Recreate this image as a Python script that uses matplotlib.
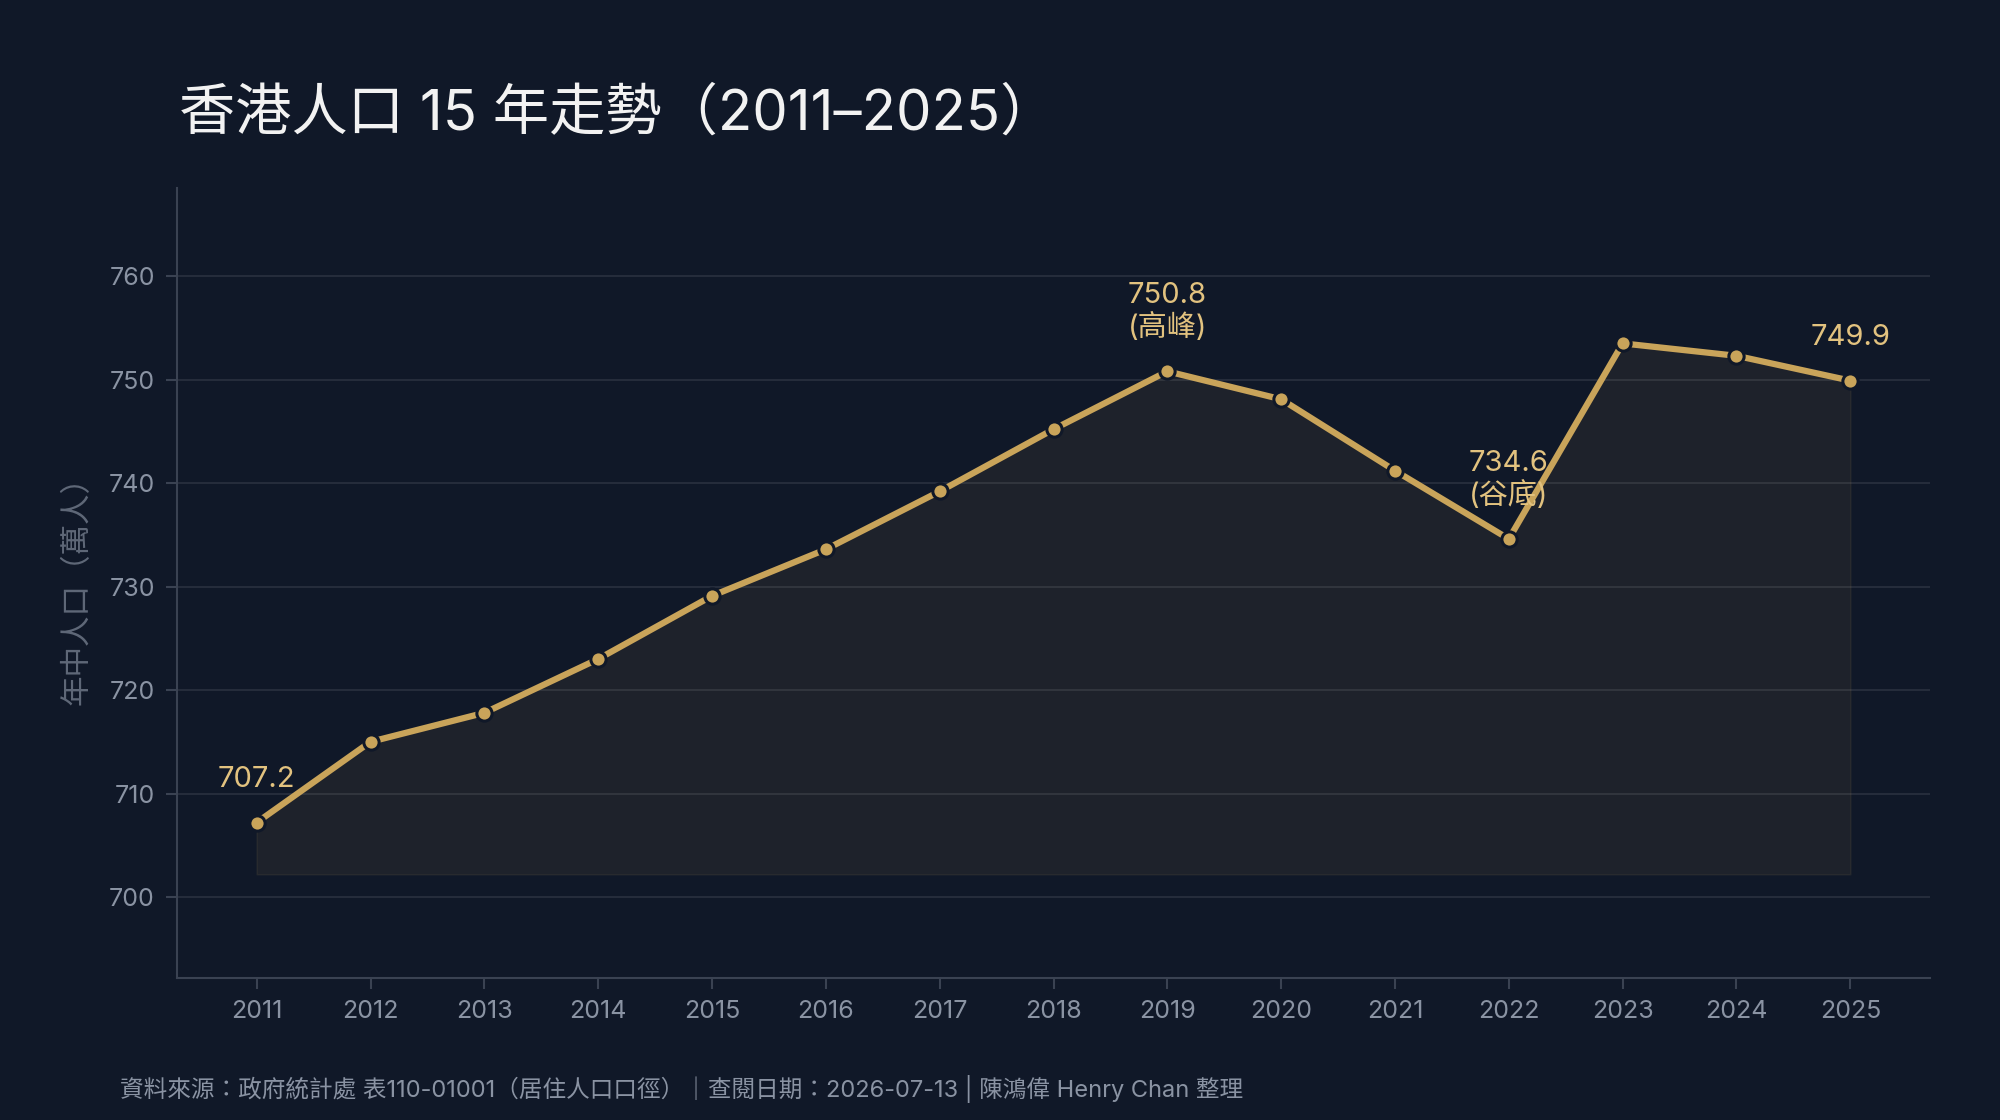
import numpy as np
import matplotlib
matplotlib.use("Agg")
import matplotlib.pyplot as plt

plt.rcParams['font.family'] = ['Inter', 'Noto Sans CJK TC', 'DejaVu Sans']

# data
years = [2011, 2012, 2013, 2014, 2015, 2016, 2017, 2018,
         2019, 2020, 2021, 2022, 2023, 2024, 2025]
population = [707.2, 715.0, 717.8, 723.0, 729.1, 733.6, 739.2, 745.2,
              750.8, 748.1, 741.2, 734.6, 753.5, 752.3, 749.9]
labels = {2011: "707.2", 2019: "750.8\n(高峰)", 2022: "734.6\n(谷底)", 2025: "749.9"}
title = "香港人口 15 年走勢（2011–2025）"
ylabel = "年中人口（萬人）"
source = "資料來源：政府統計處 表110-01001（居住人口口徑）｜查閱日期：2026-07-13 | 陳鴻偉 Henry Chan 整理"

bg = '#101828'
gold = '#c9a45a'
muted = '#8a93a3'

fig = plt.figure(figsize=(20, 11.2), dpi=100, facecolor=bg)
ax = fig.add_axes([0.0885, 0.127, 0.8765, 0.705])
ax.set_facecolor(bg)

lo = min(population)
hi = max(population)
ax.fill_between(years, population, lo - 5, color=gold, alpha=0.08,
                edgecolor=gold, linewidth=1.2, zorder=1)
ax.plot(years, population, color=gold, linewidth=4.5, zorder=3,
        marker='o', markersize=11, markerfacecolor=gold,
        markeredgecolor=bg, markeredgewidth=2.2)

for yr, txt in labels.items():
    v = population[years.index(yr)]
    ax.annotate(txt, (yr, v), xytext=(0, 21), textcoords='offset points',
                ha='center', va='bottom', fontsize=21, color='#e2c27f',
                linespacing=1.18, zorder=4)

ax.set_xlim(2010.3, 2025.7)
ax.set_ylim(lo - 15, hi + 15)
ax.set_xticks(years)
ax.set_yticks(np.arange(700, 761, 10))
ax.grid(axis='y', color='#2a3140', linewidth=1.2)
ax.set_axisbelow(True)
for s in ['top', 'right']:
    ax.spines[s].set_visible(False)
for s in ['left', 'bottom']:
    ax.spines[s].set_color('#3a4252')
    ax.spines[s].set_linewidth(1.5)
ax.tick_params(colors=muted, labelsize=18, length=8, width=1.5, pad=8)
ax.tick_params(axis='x', color='#3a4252')
ax.tick_params(axis='y', color='#3a4252')
ax.set_ylabel(ylabel, color='#5f6878', fontsize=22, labelpad=12)

fig.text(0.0895, 0.898, title, color='#f2f2f2', fontsize=40.5, va='center', ha='left')
fig.text(0.06, 0.028, source, color=muted, fontsize=17, va='center', ha='left')

fig.savefig('out.png', dpi=100, facecolor=bg)
